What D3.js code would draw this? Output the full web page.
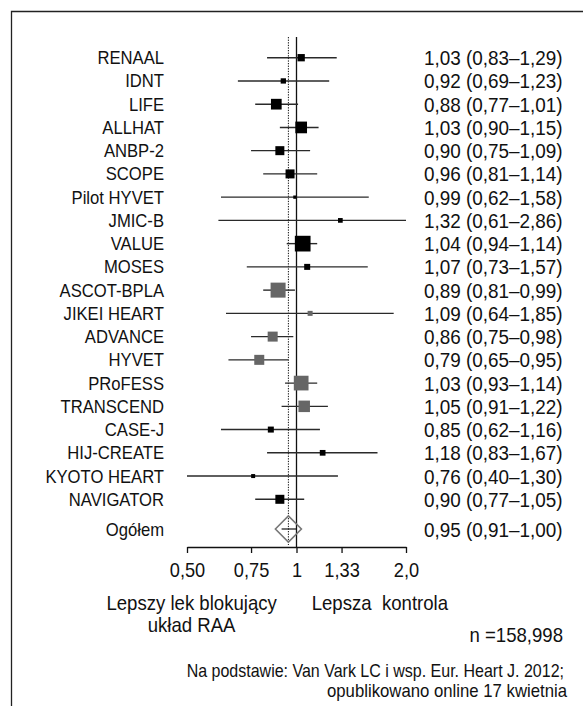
<!DOCTYPE html>
<html>
<head>
<meta charset="utf-8">
<script src="https://cdn.jsdelivr.net/npm/d3@7"></script>
<style>
  html, body { margin: 0; padding: 0; background: #fff; }
  svg { display: block; }
  text { font-family: "Liberation Sans", Arial, sans-serif; fill: #111; }
</style>
</head>
<body>
<script>
// ---------- data ----------
const studies = ["RENAAL","IDNT","LIFE","ALLHAT","ANBP-2","SCOPE","Pilot HYVET","JMIC-B","VALUE","MOSES",
  "ASCOT-BPLA","JIKEI HEART","ADVANCE","HYVET","PRoFESS","TRANSCEND","CASE-J","HIJ-CREATE","KYOTO HEART","NAVIGATOR"];
const hr    = [1.03,0.92,0.88,1.03,0.90,0.96,0.99,1.32,1.04,1.07,0.89,1.09,0.86,0.79,1.03,1.05,0.85,1.18,0.76,0.90];
const lower = [0.83,0.69,0.77,0.90,0.75,0.81,0.62,0.61,0.94,0.73,0.81,0.64,0.75,0.65,0.93,0.91,0.62,0.83,0.40,0.77];
const upper = [1.29,1.23,1.01,1.15,1.09,1.14,1.58,2.86,1.14,1.57,0.99,1.85,0.98,0.95,1.14,1.22,1.16,1.67,1.30,1.05];
const weight = [7.3,5.3,10.7,11.7,9,9,3.3,4.7,15.7,6,15,5,10,10,14.7,11.5,6,5.7,4,9];
const groupACEvsARB = [0,0,0,0,0,0,0,0,0,0,1,1,1,1,1,1,0,0,0,0];
const overallLabel = "Ogółem";
const overall = {hr: 0.95, lo: 0.91, hi: 1.00};
const tickValues = [0.5, 0.75, 1, 1.33, 2.0];
const tickLabels = ["0,50", "0,75", "1", "1,33", "2,0"];
const leftCaption = ["Lepszy lek blokujący", "układ RAA"];
const rightCaption = "Lepsza  kontrola";
const nText = "n =158,998";
const footnote = ["Na podstawie: Van Vark LC i wsp. Eur. Heart J. 2012;", "opublikowano online 17 kwietnia"];

// ---------- layout ----------
const W = 583, H = 706;
const svg = d3.select("body").append("svg").attr("width", W).attr("height", H);

const x = d3.scaleLog().domain([0.5, 2]).range([187, 406]).clamp(true);
const y = d3.scaleLinear().domain([0, studies.length - 1]).range([57.7, 499.3]);
const yOverall = 529;
const axisY = 547;

const fmt = v => d3.format(".2f")(v).replace(".", ",");

function addText(sel, tx, ty, str, size, anchor, sx) {
  return sel.append("text")
    .attr("transform", `translate(${tx},${ty}) scale(${sx || 0.9},1)`)
    .attr("text-anchor", anchor || "start")
    .style("font-size", size + "px")
    .style("white-space", "pre")
    .text(str);
}

// frame (top + left)
svg.append("path")
  .attr("d", `M583,11.5 H11.5 V706`)
  .attr("fill", "none").attr("stroke", "#222").attr("stroke-width", 1.3);

// reference lines
svg.append("line")
  .attr("x1", x(1)).attr("x2", x(1)).attr("y1", 37).attr("y2", axisY)
  .attr("stroke", "#111").attr("stroke-width", 1.3);
svg.append("line")
  .attr("x1", x(overall.hr)).attr("x2", x(overall.hr)).attr("y1", 37).attr("y2", axisY - 2)
  .attr("stroke", "#111").attr("stroke-width", 1).attr("stroke-dasharray", "1.3,1.3");

// CI lines
const rows = svg.append("g");
rows.selectAll("line.ci").data(studies).join("line")
  .attr("class", "ci")
  .attr("x1", (d, i) => x(lower[i])).attr("x2", (d, i) => x(upper[i]))
  .attr("y1", (d, i) => y(i)).attr("y2", (d, i) => y(i))
  .attr("stroke", "#2a2a2a").attr("stroke-width", 1.4);

// squares
rows.selectAll("rect.sq").data(studies).join("rect")
  .attr("class", "sq")
  .attr("x", (d, i) => x(hr[i]) - weight[i] / 2)
  .attr("y", (d, i) => y(i) - weight[i] / 2)
  .attr("width", (d, i) => weight[i]).attr("height", (d, i) => weight[i])
  .attr("fill", (d, i) => groupACEvsARB[i] ? "#666666" : "#000000");

// labels
studies.forEach((s, i) => {
  addText(svg, 164, y(i) + 6.5, s, 18.5, "end");
  addText(svg, 424, y(i) + 7.5, `${fmt(hr[i])} (${fmt(lower[i])}–${fmt(upper[i])})`, 21, "start");
});

// overall
const cx = x(overall.hr);
svg.append("path")
  .attr("d", `M${cx - 13},${yOverall} L${cx},${yOverall - 13} L${cx + 13},${yOverall} L${cx},${yOverall + 13} Z`)
  .attr("fill", "none").attr("stroke", "#777").attr("stroke-width", 1.6);
svg.append("line")
  .attr("x1", x(overall.lo)).attr("x2", x(overall.hi))
  .attr("y1", yOverall).attr("y2", yOverall)
  .attr("stroke", "#111").attr("stroke-width", 1.2);
addText(svg, 164, yOverall + 6.5, overallLabel, 18.5, "end");
addText(svg, 424, yOverall + 7.5, `${fmt(overall.hr)} (${fmt(overall.lo)}–${fmt(overall.hi)})`, 21, "start");

// axis
const axis = d3.axisBottom(x).tickValues(tickValues)
  .tickFormat((d, i) => tickLabels[i]).tickSize(6).tickSizeOuter(0);
const gAxis = svg.append("g").attr("transform", `translate(0,${axisY})`).call(axis);
gAxis.select(".domain").attr("stroke", "#111").attr("stroke-width", 1.3);
gAxis.selectAll(".tick line").attr("stroke", "#111").attr("stroke-width", 1.3);
gAxis.selectAll(".tick text")
  .attr("y", 0).attr("dy", null)
  .attr("transform", `translate(0,30) scale(0.91,1)`)
  .attr("fill", "#111")
  .style("font-size", "20px")
  .style("font-family", '"Liberation Sans", Arial, sans-serif');

// captions
addText(svg, 191.6, 609.5, leftCaption[0], 20, "middle", 0.93);
addText(svg, 191.6, 632, leftCaption[1], 20, "middle", 0.93);
addText(svg, 311.7, 609.5, rightCaption, 20, "start", 0.93);
addText(svg, 563, 642, nText, 20, "end", 0.93);
addText(svg, 564, 677, footnote[0], 18, "end", 0.89);
addText(svg, 567, 697, footnote[1], 18, "end", 0.93);
</script>
</body>
</html>
